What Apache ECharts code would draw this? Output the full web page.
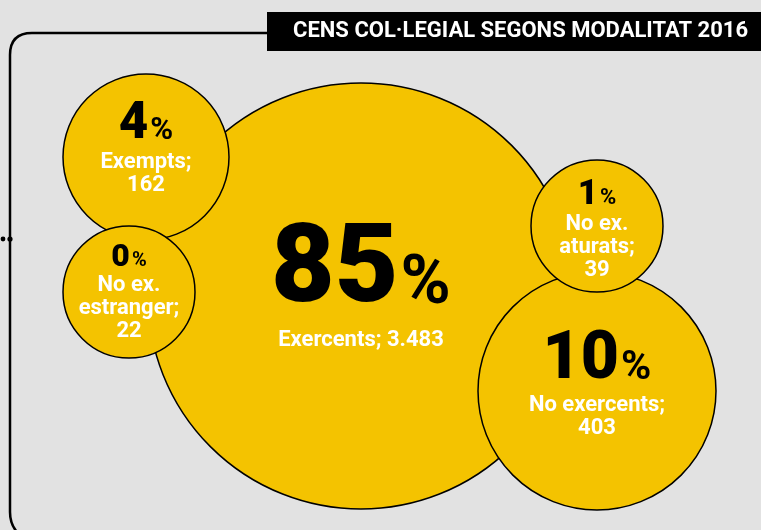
<!DOCTYPE html>
<html>
<head>
<meta charset="utf-8">
<title>Cens col·legial 2016</title>
<script src="https://cdn.jsdelivr.net/npm/echarts@6/dist/echarts.min.js"></script>
</head>
<body style="margin:0;background:#e2e2e2">
<div id="main" style="width:761px;height:530px;"></div>
<script type="text/javascript">
var titleText = 'CENS COL·LEGIAL SEGONS MODALITAT 2016';
var categories = ['Exercents', 'No exercents', 'No ex.\naturats', 'Exempts', 'No ex.\nestranger'];
var counts = [3483, 403, 39, 162, 22];
var percents = [85, 10, 1, 4, 0];

// bubble placement in pixels + text sizes (array order = drawing order)
var layout = [
    { x: 361, y: 296, r: 213, num: 110, sign: 68, numLine: 128, sep: ' ', dy: -20 },
    { x: 597, y: 391, r: 119, num: 66, sign: 41, numLine: 92, sep: '\n', dy: -20 },
    { x: 597, y: 226, r: 66, num: 35, sign: 22, numLine: 42, sep: '\n', dy: 0 },
    { x: 146, y: 157, r: 83, num: 51, sign: 31, numLine: 62, sep: '\n', dy: -14 },
    { x: 129, y: 292, r: 66, num: 32, sign: 20, numLine: 43, sep: '\n', dy: -5 }
];

function fmt(n) {
    return String(n).replace(/\B(?=(\d{3})+(?!\d))/g, '.');
}

var data = categories.map(function (c, i) {
    var l = layout[i];
    return {
        name: c,
        value: [l.x, l.y],
        symbolSize: l.r * 2,
        label: {
            offset: [0, l.dy],
            formatter: '{n|' + percents[i] + '}{s|%}\n{t|' + c + ';' + l.sep + fmt(counts[i]) + '}',
            rich: {
                n: { fontFamily: 'Roboto', fontWeight: 900, fontSize: l.num, color: '#000', lineHeight: l.numLine, verticalAlign: 'bottom' },
                s: { fontFamily: 'Roboto', fontWeight: 'bold', fontSize: l.sign, color: '#000', lineHeight: l.numLine, verticalAlign: 'bottom',
                     padding: [0, 0, Math.round(0.21 * (l.num - l.sign)), 2] },
                t: { fontFamily: 'Roboto', fontWeight: 'bold', fontSize: 22, color: '#fff', lineHeight: 23, align: 'center' }
            }
        }
    };
});

var myChart = echarts.init(document.getElementById('main'));
var frame = { stroke: '#000', lineWidth: 2.5, fill: null };
var option = {
    backgroundColor: '#e2e2e2',
    animation: false,
    title: {
        text: titleText,
        right: 13,
        top: 20,
        padding: 0,
        z: 10,
        textStyle: { color: '#fff', fontFamily: 'Roboto', fontWeight: 'bold', fontSize: 22 }
    },
    grid: { left: 0, right: 0, top: 0, bottom: 0 },
    xAxis: { type: 'value', min: 0, max: 761, show: false },
    yAxis: { type: 'value', min: 0, max: 530, inverse: true, show: false },
    graphic: [
        { type: 'polyline', shape: { points: [[267, 33], [32, 33]] }, style: frame },
        { type: 'bezierCurve', shape: { x1: 32, y1: 33, cpx1: 10, cpy1: 33, x2: 10, y2: 55 }, style: frame },
        { type: 'polyline', shape: { points: [[10, 55], [10, 512]] }, style: frame },
        { type: 'bezierCurve', shape: { x1: 10, y1: 512, cpx1: 10, cpy1: 524, x2: 17, y2: 532 }, style: frame },
        { type: 'circle', shape: { cx: 3, cy: 239, r: 2.4 }, style: { fill: '#000' } },
        { type: 'circle', shape: { cx: 10, cy: 239, r: 2.6 }, style: { fill: '#000' } },
        { type: 'rect', shape: { x: 267, y: 12, width: 494, height: 39 }, style: { fill: '#000' } }
    ],
    series: [{
        type: 'scatter',
        silent: true,
        symbol: 'circle',
        itemStyle: { color: '#f4c300', borderColor: '#000', borderWidth: 1.5, opacity: 1 },
        label: { show: true, position: 'inside' },
        emphasis: { disabled: true },
        data: data
    }]
};
myChart.setOption(option);
</script>
</body>
</html>
